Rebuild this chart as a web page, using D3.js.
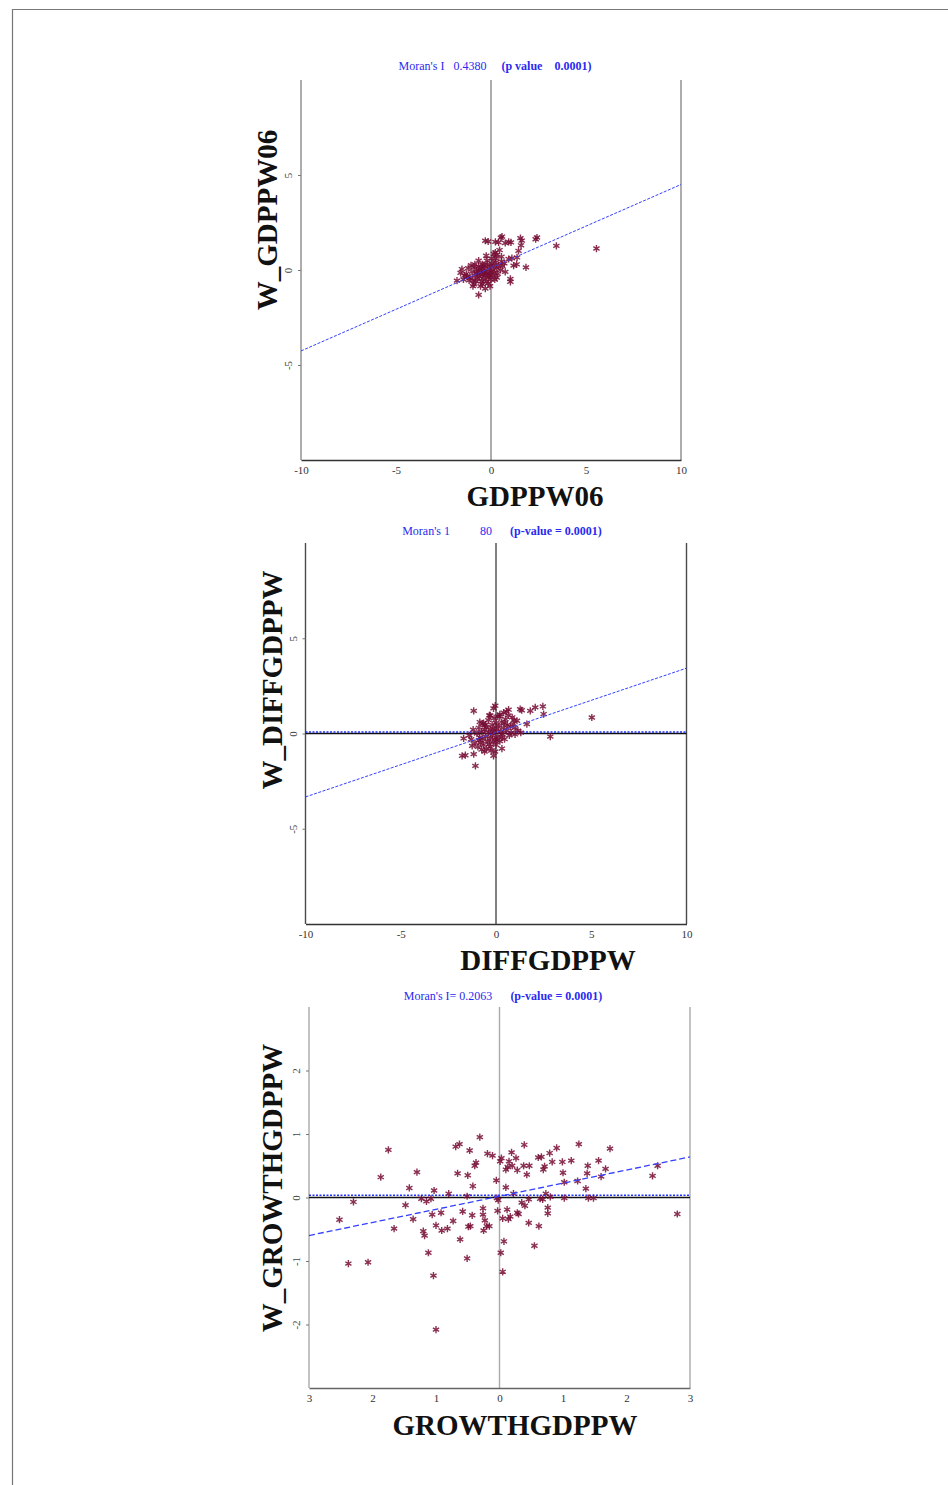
<!DOCTYPE html>
<html>
<head>
<meta charset="utf-8">
<script src="https://cdn.jsdelivr.net/npm/d3@7"></script>
<style>
body { margin: 0; background: #fff; }
svg { display: block; font-family: "Liberation Serif", "Times New Roman", serif; }
</style>
</head>
<body>
<svg id="canvas" width="948" height="1485"></svg>
<script>
// ---- data ----
// panel 1 : GDPPW06 vs W_GDPPW06
var p1Points = [
  [5.55,1.13],[3.44,1.27],[2.42,1.71],[2.35,1.62],[1.62,1.55],[1.58,1.30],[1.55,1.68],[0.58,1.76],
  [0.52,1.70],[0.93,1.48],[1.05,1.45],[0.75,1.42],[-0.30,1.54],[-0.15,1.50],[0.23,1.48],[0.40,1.45],
  [1.84,0.14],[1.19,0.23],[1.35,0.30],[1.02,-0.47],[1.02,-0.62],[1.45,1.01],[1.37,0.66],[0.93,0.58],
  [1.10,0.62],[0.23,0.92],[0.30,0.80],[0.45,1.05],[0.55,0.70],[0.25,0.60],[-0.65,0.49],[-0.21,0.49],
  [-0.45,0.30],[-0.65,-1.31],[-0.30,-0.98],[-0.45,-0.75],[-1.53,0.05],[-1.79,-0.56],[-1.40,-0.30],
  [-1.3,-0.2],[-1.2,0.1],[-1.1,-0.4],[-1.0,-0.1],[-0.95,-0.55],[-0.9,0.15],[-0.85,-0.3],[-0.8,-0.6],
  [-0.75,0.0],[-0.7,-0.2],[-0.7,-0.45],[-0.65,0.2],[-0.6,-0.35],[-0.55,-0.1],[-0.5,-0.6],[-0.5,0.1],
  [-0.45,-0.25],[-0.4,0.25],[-0.4,-0.45],[-0.35,-0.05],[-0.3,-0.3],[-0.3,0.15],[-0.25,-0.6],[-0.2,-0.15],
  [-0.2,0.3],[-0.15,-0.4],[-0.1,0.05],[-0.1,-0.25],[-0.05,0.2],[0.0,-0.1],[0.0,-0.5],[0.05,0.35],
  [0.1,0.0],[0.1,-0.3],[0.15,0.2],[0.2,-0.15],[0.25,0.4],[0.3,0.1],[0.35,-0.2],[0.4,0.25],[0.5,0.0],
  [0.55,0.45],[0.6,0.2],[0.7,0.35],[0.75,-0.1],[-1.15,-0.55],[-1.25,-0.35],[-0.85,0.3],[-0.6,0.05],
  [-0.15,-0.7],[-0.05,-0.85],[0.2,-0.5],[-0.9,-0.75],[-0.55,-0.85],[0.05,0.6],[-0.25,0.75],[0.15,0.85],
  [-0.35,-0.15],[-0.75,-0.15],[-0.05,-0.3],[0.3,-0.4],[-1.6,-0.15],[-1.45,-0.5],[-1.05,0.25],[-0.95,-0.85]
];
// panel 2 : DIFFGDPPW vs W_DIFFGDPPW
var p2Points = [
  [5.03,0.84],[2.85,-0.16],[2.46,1.42],[2.06,1.37],[1.80,1.19],[2.50,1.02],[1.27,1.28],[1.35,1.22],
  [0.66,1.25],[0.40,1.10],[-0.13,1.32],[-0.04,1.46],[-1.17,1.19],[1.62,0.49],[1.10,0.67],[0.95,0.70],
  [-0.65,0.55],[-1.70,-0.26],[-1.78,-1.17],[-1.61,-1.14],[-1.17,-1.08],[-1.08,-1.70],[0.31,-0.79],
  [-0.13,-1.17],[1.30,0.05],[1.00,0.30],[0.85,0.85],[0.20,0.90],[-0.30,0.95],[0.55,1.15],
  [-1.3,-0.3],[-1.2,0.2],[-1.1,-0.5],[-1.0,0.0],[-0.95,-0.7],[-0.9,0.3],[-0.85,-0.2],[-0.8,-0.5],
  [-0.75,0.1],[-0.7,-0.3],[-0.7,0.5],[-0.65,-0.6],[-0.6,0.2],[-0.55,-0.15],[-0.5,-0.8],[-0.5,0.35],
  [-0.45,-0.4],[-0.4,0.7],[-0.4,0.05],[-0.35,-0.55],[-0.3,0.2],[-0.3,-0.25],[-0.25,-0.9],[-0.2,0.45],
  [-0.2,-0.1],[-0.15,-0.45],[-0.1,0.8],[-0.1,0.1],[-0.05,-0.3],[0.0,0.55],[0.0,-0.6],[0.05,0.25],
  [0.1,-0.15],[0.1,0.9],[0.15,0.4],[0.2,-0.4],[0.25,0.1],[0.3,0.6],[0.35,-0.05],[0.4,0.3],[0.45,-0.3],
  [0.5,0.75],[0.55,0.15],[0.6,0.45],[0.7,-0.1],[0.75,0.35],[0.8,0.05],[0.9,0.5],[1.0,-0.05],[1.15,0.15],
  [-1.4,-0.1],[-1.25,-0.65],[-0.85,0.6],[-0.6,-0.95],[-0.35,0.95],[-0.05,-0.95],[0.2,1.0],[0.65,0.95],
  [-0.9,-0.35],[-0.55,0.45],[-0.15,0.25],[0.3,-0.2],[-0.75,-0.85],[0.05,-0.35],[-0.3,-0.7],[0.45,0.55]
];
// panel 3 : GROWTHGDPPW vs W_GROWTHGDPPW
var p3Points = [
  [-2.52,-0.35],[-2.38,-1.04],[-2.30,-0.07],[-2.07,-1.02],[-1.87,0.32],[-1.75,0.75],[-1.66,-0.49],
  [-1.48,-0.12],[-1.42,0.15],[-1.36,-0.34],[-1.30,0.40],[-1.23,-0.02],[-1.20,-0.53],[-1.18,-0.60],
  [-1.15,-0.06],[-1.12,-0.87],[-1.08,-0.02],[-1.06,-0.27],[-1.04,-1.23],[-1.03,0.11],[-1.00,-0.44],
  [-1.00,-2.08],[-0.92,-0.24],[-0.91,-0.52],[-0.82,-0.49],[-0.80,0.06],[-0.73,-0.37],[-0.69,0.80],
  [-0.66,0.38],[-0.63,0.84],[-0.62,-0.66],[-0.58,-0.22],[-0.51,0.02],[-0.51,-0.96],[-0.50,0.35],
  [-0.49,-0.46],[-0.47,0.74],[-0.46,-0.45],[-0.43,-0.28],[-0.42,0.18],[-0.39,0.50],[-0.37,0.55],
  [-0.31,0.95],[-0.26,-0.17],[-0.26,-0.27],[-0.25,-0.52],[-0.23,-0.36],[-0.20,-0.45],[-0.19,0.69],
  [-0.16,-0.45],[-0.11,0.66],[-0.05,0.27],[-0.04,-0.01],[-0.03,-0.21],[-0.02,-0.04],[0.01,0.57],
  [0.02,-0.87],[0.03,0.62],[0.05,-0.33],[0.05,-1.17],[0.07,-0.69],[0.10,0.44],[0.10,0.16],[0.12,-0.19],
  [0.13,0.48],[0.14,-0.34],[0.15,0.57],[0.17,-0.30],[0.19,0.71],[0.20,0.50],[0.22,0.06],[0.26,0.62],
  [0.28,0.43],[0.28,-0.24],[0.30,-0.26],[0.35,-0.08],[0.38,0.50],[0.39,0.83],[0.40,-0.13],[0.43,0.36],
  [0.46,-0.03],[0.46,-0.40],[0.47,0.50],[0.55,-0.76],[0.61,0.63],[0.62,-0.45],[0.64,-0.02],[0.66,0.64],
  [0.68,-0.03],[0.69,0.44],[0.71,0.49],[0.73,0.06],[0.76,-0.16],[0.76,-0.25],[0.79,0.70],[0.80,0.01],
  [0.83,0.56],[0.90,0.78],[0.99,0.56],[1.00,0.39],[1.02,0.24],[1.02,-0.01],[1.13,0.58],[1.23,0.26],
  [1.25,0.84],[1.36,0.14],[1.38,0.38],[1.39,0.50],[1.40,-0.01],[1.48,-0.01],[1.56,0.58],[1.60,0.33],
  [1.67,0.45],[1.74,0.77],[2.41,0.34],[2.49,0.50],[2.80,-0.26]
];

// Moran's I slopes / intercepts of the fitted lines
var slopes = [0.438, 0.338, 0.2063];
var intercepts = [0.12, 0.05, 0.02];
var meanLines = [null, 0.08, 0.035];   // dotted blue reference line (panels 2, 3)

var xLabels = ["GDPPW06", "DIFFGDPPW", "GROWTHGDPPW"];
var yLabels = ["W_GDPPW06", "W_DIFFGDPPW", "W_GROWTHGDPPW"];
var titleMain = ["Moran's I   0.4380     ", "Moran's 1          80      ", "Moran's I= 0.2063      "];
var titleP = ["(p value    0.0001)", "(p-value = 0.0001)", "(p-value = 0.0001)"];

var bigTicks = [-10, -5, 0, 5, 10];
var bigTickLabels = ["-10", "-5", "0", "5", "10"];
var bigYTicks = [-5, 0, 5];
var bigYTickLabels = ["-5", "0", "5"];
var smallTicks = [-3, -2, -1, 0, 1, 2, 3];
var smallTickLabels = ["3", "2", "1", "0", "1", "2", "3"];
var smallYTicks = [-2, -1, 0, 1, 2];
var smallYTickLabels = ["-2", "-1", "0", "1", "2"];

var svg = d3.select("#canvas");

// page frame
svg.append("line").attr("x1", 12).attr("y1", 9.5).attr("x2", 948).attr("y2", 9.5)
    .attr("stroke", "#777").attr("stroke-width", 1.2);
svg.append("line").attr("x1", 12.5).attr("y1", 9).attr("x2", 12.5).attr("y2", 1485)
    .attr("stroke", "#777").attr("stroke-width", 1.2);

var panels = [
  { pts: p1Points, dom: [-10, 10], xt: bigTicks, xtl: bigTickLabels, yt: bigYTicks, ytl: bigYTickLabels,
    left: 301, right: 681, top: 80, bottom: 460, frame: "#8a8a8a", axis: "#333", dash: "3,1.5",
    titleX: 495, titleY: 70, xlX: 535, xlY: 506, ylX: 277, ylY: 220 },
  { pts: p2Points, dom: [-10, 10], xt: bigTicks, xtl: bigTickLabels, yt: bigYTicks, ytl: bigYTickLabels,
    left: 305.5, right: 686.5, top: 543, bottom: 924, frame: "#4a4a4a", axis: "#333", dash: "3,1.5",
    titleX: 502, titleY: 535, xlX: 548, xlY: 970, ylX: 282, ylY: 680 },
  { pts: p3Points, dom: [-3, 3], xt: smallTicks, xtl: smallTickLabels, yt: smallYTicks, ytl: smallYTickLabels,
    left: 309, right: 690, top: 1007, bottom: 1388, frame: "#aaaaaa", axis: "#666", dash: "6,3",
    titleX: 503, titleY: 1000, xlX: 515, xlY: 1435, ylX: 282, ylY: 1188 }
];

panels.forEach(function (o, k) {
    var x = d3.scaleLinear().domain(o.dom).range([o.left, o.right]);
    var y = d3.scaleLinear().domain(o.dom).range([o.bottom, o.top]);
    var g = svg.append("g");

    // vertical frame lines : left, zero, right
    g.selectAll("line.v")
        .data([o.dom[0], 0, o.dom[1]])
        .enter()
        .append("line")
        .attr("x1", d => x(d)).attr("x2", d => x(d))
        .attr("y1", o.top).attr("y2", o.bottom)
        .attr("stroke", o.frame)
        .attr("stroke-width", 1.4);

    // x axis
    var xAxisCall = d3.axisBottom(x)
        .tickValues(o.xt)
        .tickSize(0)
        .tickSizeOuter(0)
        .tickPadding(6)
        .tickFormat((d, i) => o.xtl[i]);
    var xa = g.append("g")
        .attr("transform", "translate(0," + o.bottom + ")")
        .call(xAxisCall);
    xa.select(".domain").attr("stroke", o.axis).attr("stroke-width", 1.6);
    xa.selectAll("text")
        .attr("font-family", "Liberation Serif, serif")
        .attr("font-size", "11px")
        .attr("fill", "#333");

    // y axis, labels turned
    var yAxisCall = d3.axisLeft(y)
        .tickValues(o.yt)
        .tickSize(3)
        .tickSizeOuter(0)
        .tickFormat((d, i) => o.ytl[i]);
    var ya = g.append("g")
        .attr("transform", "translate(" + o.left + ",0)")
        .call(yAxisCall);
    ya.select(".domain").remove();
    ya.selectAll(".tick line").attr("stroke", "#777");
    ya.selectAll("text")
        .attr("font-family", "Liberation Serif, serif")
        .attr("font-size", "11px")
        .attr("fill", "#444")
        .attr("transform", "rotate(-90)")
        .attr("text-anchor", "middle")
        .attr("x", 0)
        .attr("y", -9)
        .attr("dy", 0);

    // horizontal zero line + dotted reference
    if (meanLines[k] !== null) {
        g.append("line")
            .attr("x1", o.left).attr("x2", o.right)
            .attr("y1", y(0)).attr("y2", y(0))
            .attr("stroke", "#111").attr("stroke-width", 1.4);
        g.append("line")
            .attr("x1", o.left).attr("x2", o.right)
            .attr("y1", y(meanLines[k])).attr("y2", y(meanLines[k]))
            .attr("stroke", "#2030ff").attr("stroke-width", 1.4)
            .attr("stroke-dasharray", "2,1.5");
    }

    // points
    g.selectAll("path.pt")
        .data(o.pts)
        .enter()
        .append("path")
        .attr("class", "pt")
        .attr("transform", d => "translate(" + x(d[0]) + "," + y(d[1]) + ")")
        .attr("d", d3.symbol(d3.symbolAsterisk, 36))
        .attr("fill", "none")
        .attr("stroke", "#760c34")
        .attr("stroke-width", 1.4)
        .attr("stroke-opacity", 0.85);

    // fitted line
    g.append("line")
        .attr("x1", x(o.dom[0])).attr("y1", y(intercepts[k] + slopes[k] * o.dom[0]))
        .attr("x2", x(o.dom[1])).attr("y2", y(intercepts[k] + slopes[k] * o.dom[1]))
        .attr("stroke", "#3340ff")
        .attr("stroke-width", k === 2 ? 1.3 : 1)
        .attr("stroke-dasharray", o.dash);

    // title
    var t = g.append("text")
        .attr("x", o.titleX).attr("y", o.titleY)
        .attr("text-anchor", "middle")
        .attr("font-size", "12px")
        .attr("fill", "#2a2af0")
        .style("white-space", "pre");
    t.append("tspan").text(titleMain[k]);
    t.append("tspan").attr("font-weight", "bold").text(titleP[k]);

    // axis labels
    g.append("text")
        .attr("x", o.xlX).attr("y", o.xlY)
        .attr("text-anchor", "middle")
        .attr("font-size", "29px")
        .attr("font-weight", "bold")
        .attr("fill", "#111")
        .text(xLabels[k]);

    g.append("text")
        .attr("transform", "translate(" + o.ylX + "," + o.ylY + ") rotate(-90)")
        .attr("text-anchor", "middle")
        .attr("font-size", "29px")
        .attr("font-weight", "bold")
        .attr("fill", "#111")
        .text(yLabels[k]);
});
</script>
</body>
</html>
